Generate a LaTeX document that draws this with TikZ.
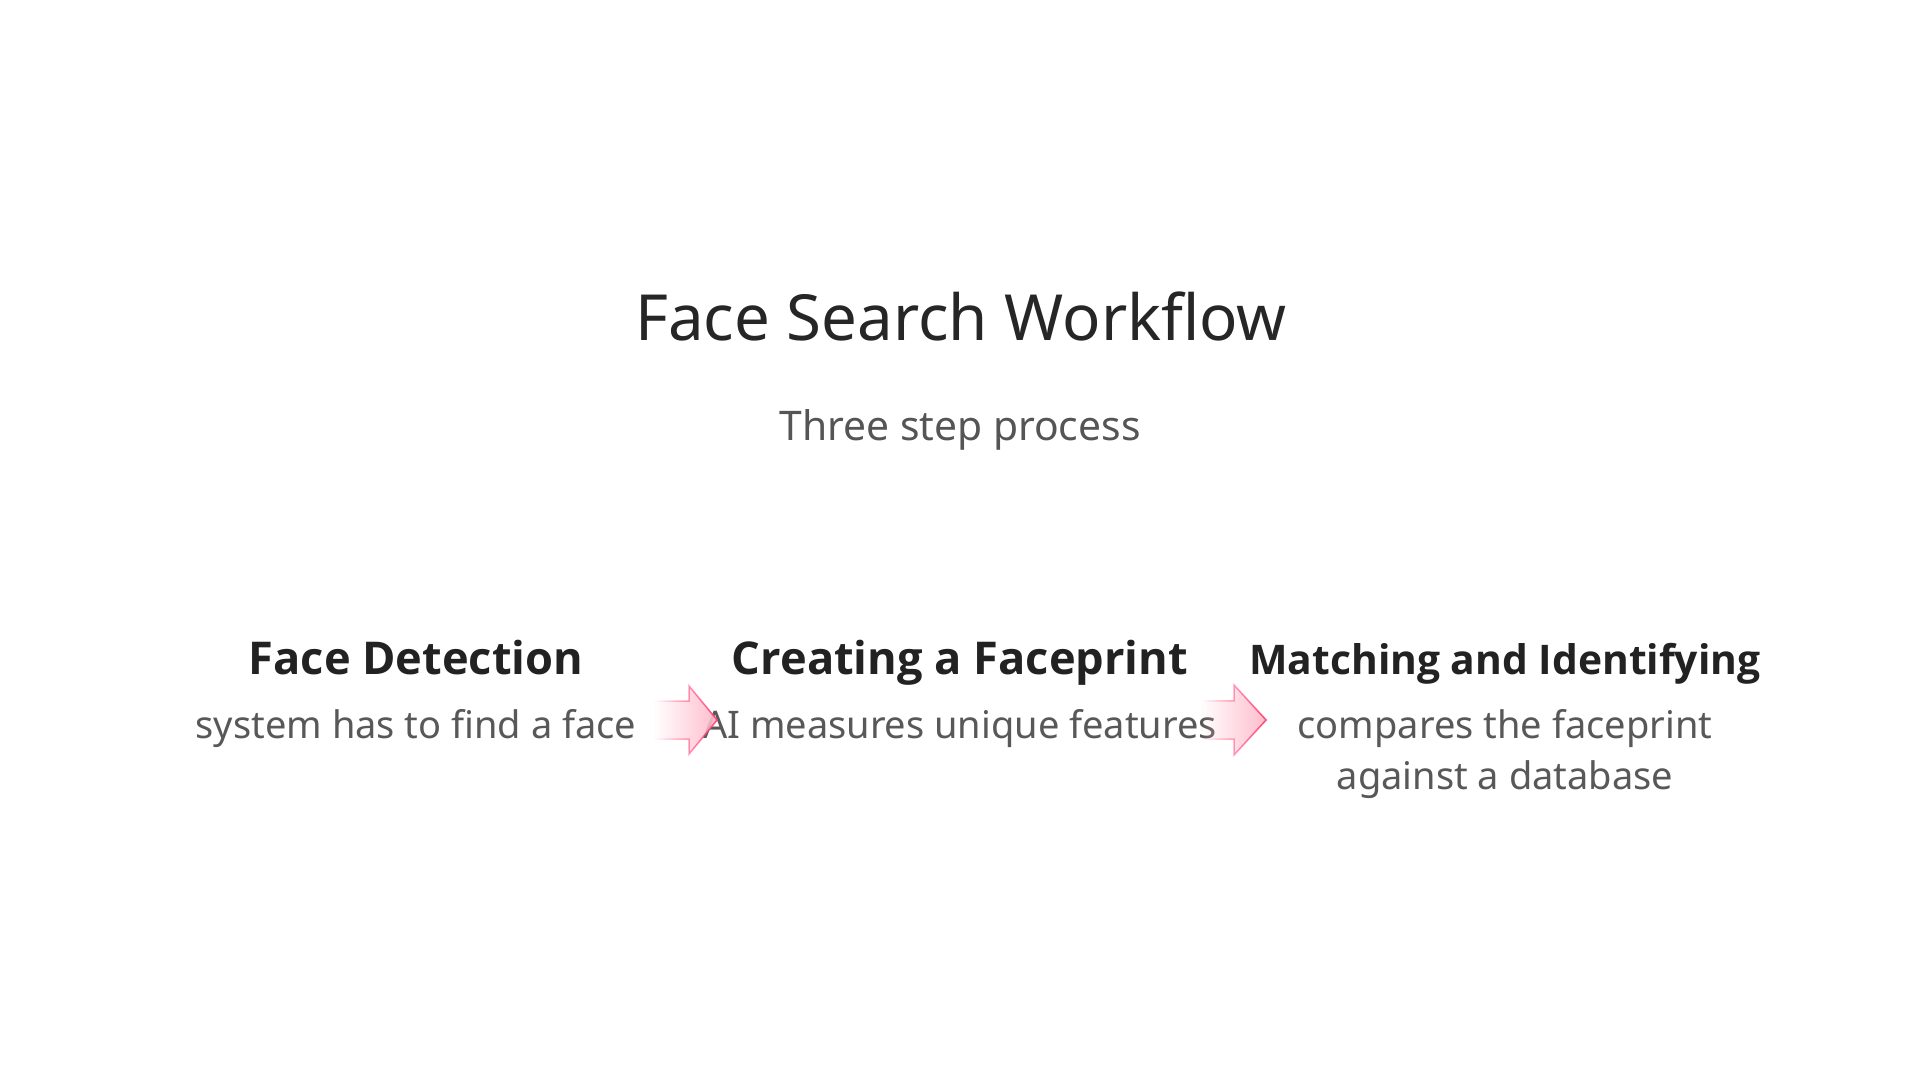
\documentclass[tikz,border=0pt]{standalone}
\usepackage{fontspec}
\setmainfont{Noto Sans}
\newfontfamily\headfont{Open Sans}
\usepackage{xcolor}
\usetikzlibrary{positioning, fadings}

\definecolor{titlegray}{HTML}{262626}
\definecolor{subgray}{HTML}{555555}
\definecolor{headgray}{HTML}{222222}
\definecolor{descgray}{HTML}{585858}
\definecolor{arrowpink}{HTML}{FFBCCD}
\definecolor{arrowedge}{HTML}{FF4477}

\tikzfading[name=fadearrow, left color=transparent!100, right color=transparent!0]

\begin{document}
\begin{tikzpicture}[x=1pt, y=-1pt,
    every node/.style={inner sep=0pt, anchor=base},
    title/.style={text=titlegray, font=\fontsize{63.6}{76}\selectfont},
    subtitle/.style={text=subgray, font=\fontsize{40.8}{48}\selectfont},
    heading/.style={text=headgray, font=\headfont\bfseries\fontsize{45.2}{54}\selectfont},
    headsmall/.style={heading, font=\headfont\bfseries\fontsize{40.8}{50}\selectfont},
    desc/.style={text=descgray, font=\fontsize{38}{51}\selectfont, align=center},
    flowarrow/.style={fill=arrowpink, draw=arrowedge, line width=1.5pt, path fading=fadearrow}]
    \fill[white] (0,0) rectangle (1920,1080);
    \useasboundingbox (0,0) rectangle (1920,1080);

    \node[title] (title) at (961,340) {Face Search Workflow};
    \node[subtitle] (sub) at (960,440) {Three step process};

    \node[heading] (h1) at (416,674) {Face Detection};
    \node[heading] (h2) at (960,674) {Creating a Faceprint};
    \node[headsmall] (h3) at (1505,674) {Matching and Identifying};

    % base of a two-line node sits on its last line
    \node[desc] (d1) at (416,738) {system has to find a face};
    \node[desc] (d2) at (960,738) {AI measures unique features};
    \node[desc] (d3) at (1505,789) {compares the faceprint\\against a database};

    \path[flowarrow] (655,701) -- ++(34,0) -- ++(0,-15) -- ++(28,34)
        -- ++(-28,34) -- ++(0,-15) -- ++(-34,0) -- cycle;
    \path[flowarrow] (1202,701) -- ++(32,0) -- ++(0,-16) -- ++(32,35)
        -- ++(-32,35) -- ++(0,-16) -- ++(-32,0) -- cycle;
  \end{tikzpicture}
\end{document}
